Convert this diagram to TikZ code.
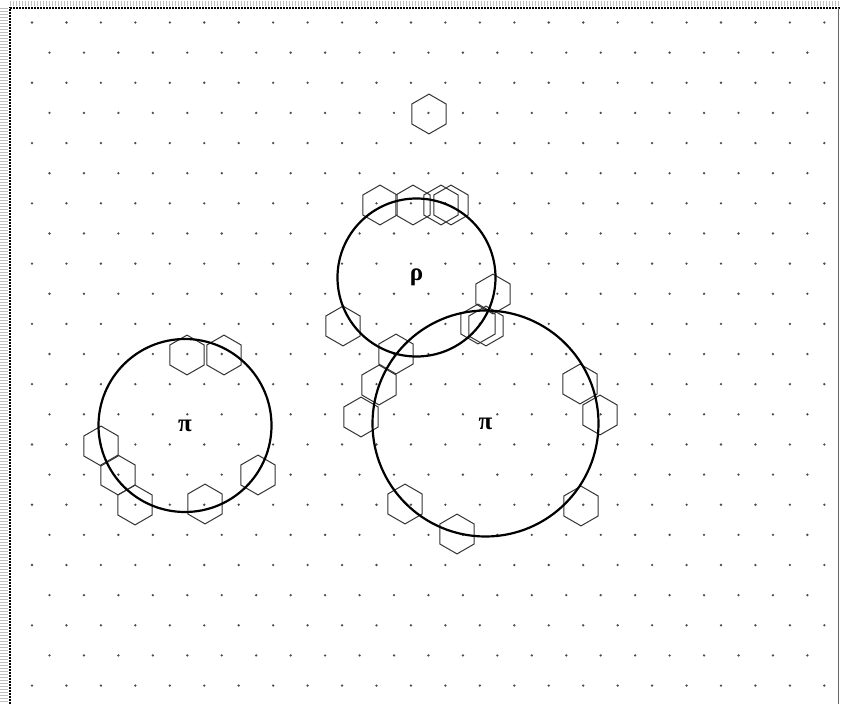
\documentclass[tikz,border=0pt]{standalone}
\usepackage{fontspec}
\newfontfamily\greekfont{Liberation Serif}

\begin{document}
\begin{tikzpicture}[x=1pt, y=-1pt,
    latticedot/.style={fill=black!70},
    hexcell/.style={draw=black!80, line width=1pt},
    meson/.style={circle, draw=black, line width=2.2pt, inner sep=0pt,
      font=\greekfont\bfseries\fontsize{25}{28}\selectfont}]
  \def\Hr{19.9}
  \useasboundingbox (0,0) rectangle (841,704);
  % window frame
  \draw[black!25, line width=7pt, dash pattern=on 1pt off 2pt] (4,8) -- (4,704);
  \draw[black!25, line width=5pt, dash pattern=on 1pt off 2pt] (10,3) -- (841,3);
  \draw[black, line width=2.6pt, dash pattern=on 2pt off 1pt] (10,704) -- (10,8) -- (841,8);
  \draw[black!60, line width=0.8pt] (838,8) -- (838,704);
  % lattice
  \foreach \n in {0,...,22}{
    \pgfmathsetmacro{\rowshift}{mod(\n,2)*17.5}
    \pgfmathsetmacro{\rowy}{22.5+30.14*\n}
    \foreach \k in {0,...,23}{
      \pgfmathsetmacro{\dotx}{32+\rowshift+34.45*\k}
      \ifdim \dotx pt<830pt
        \fill[latticedot] (\dotx,\rowy) circle (1.3pt);
      \fi
    }
  }
  % hexagonal cells
  \foreach \hx/\hy in {429/114,
      380/205, 413/205, 441/205, 451/205, 493/294, 478/324, 486/326, 343/326, 396/354,
      379/385, 361/417, 580/384, 600/415, 405/504, 457/534, 581/506,
      187/355, 224/355, 101/446, 118/475, 135/505, 205/504, 258/475}
    \draw[hexcell] (\hx,\hy) +(90:\Hr) -- +(150:\Hr) -- +(210:\Hr)
      -- +(270:\Hr) -- +(330:\Hr) -- +(30:\Hr) -- cycle;
  % mesons
  \node[meson, minimum size=158pt] (rho) at (416.5,277.5) {ρ};
  \node[meson, minimum size=226pt] (pibig) at (485.5,423.5) {π};
  \node[meson, minimum size=173pt] (pismall) at (185,425.5) {π};
\end{tikzpicture}
\end{document}
